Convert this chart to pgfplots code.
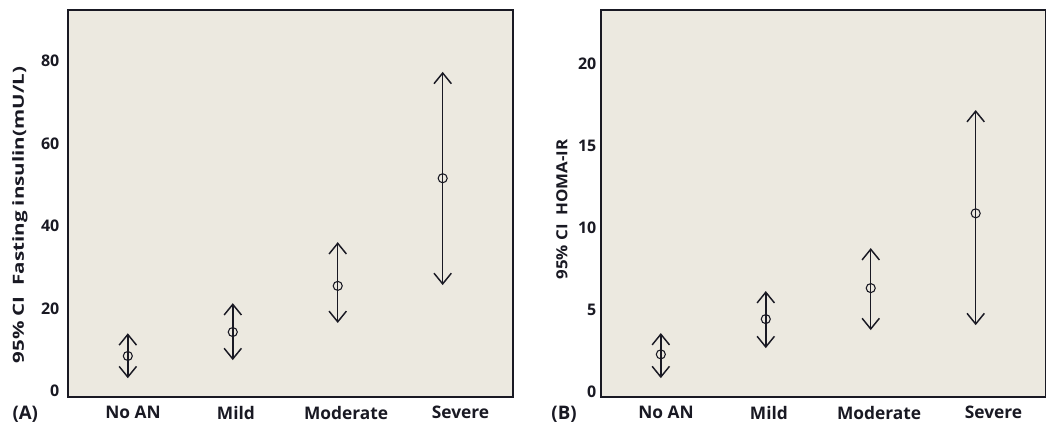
\documentclass[border=0pt]{standalone}
\usepackage{pgfplots}
\pgfplotsset{compat=1.18}
\usepackage{fontspec}
\setmainfont{Open Sans}
\usetikzlibrary{arrows.meta}

\definecolor{panel}{RGB}{236,233,224}
\definecolor{ink}{RGB}{25,25,35}

\tikzset{panellabel/.style={font=\fontsize{14}{16}\selectfont\bfseries, text=ink}}

\pgfplotsset{
  ciplot/.style={
    scale only axis, width=333.75pt, height=290.25pt,
    anchor=south west,
    axis background/.style={fill=panel},
    axis line style={line width=0.9pt, ink},
    xmin=-0.57, xmax=3.67,
    xtick={0.05,1.03,2.08,3.17},
    xticklabels={No AN, Mild, Moderate, Severe},
    major tick length=0pt,
    /pgf/number format/assume math mode=true,
    xticklabel style={font=\fontsize{13}{15}\selectfont\bfseries, text=ink, yshift=-3.5pt},
    yticklabel style={font=\fontsize{12}{14}\selectfont\bfseries, text=ink},
    ylabel style={font=\fontsize{11.5}{13}\selectfont\bfseries, text=ink, anchor=center},
    clip=false,
  },
  ci/.style={ink, line width=1.1pt,
    {Straight Barb[length=8pt,width=13pt]}-{Straight Barb[length=8pt,width=13pt]}},
  mean/.style={only marks, mark=o, mark size=3.4pt, ink, mark options={line width=0.8pt}},
}

\begin{document}
\begin{tikzpicture}
\useasboundingbox (0,0) rectangle (784.5pt,321pt);

% (A) fasting insulin
\begin{axis}[ciplot, at={(51pt,23.25pt)},
    ymin=-1.45, ymax=92.4, ytick={0,20,40,60,80},
    yticklabel style={xshift=-3pt},
    ylabel={\scalebox{1.34}[1]{95\% CI\ \ Fasting insulin(mU/L)}},
    ylabel style={at={(axis description cs:-0.108,0.47)}}]
\addplot[ci] coordinates {(0,3.1) (0,14.0)};
\addplot[ci] coordinates {(1,7.5) (1,21.3)};
\addplot[ci] coordinates {(2,16.5) (2,36.1)};
\addplot[ci] coordinates {(3,25.7) (3,77.4)};
\addplot[mean] coordinates {(0,8.5) (1,14.3) (2,25.5) (3,51.6)};
\node[panellabel] at (axis description cs:-0.096,-0.045) {(A)};
\end{axis}

% (B) HOMA-IR
\begin{axis}[ciplot, at={(450.75pt,23.25pt)},
    ymin=-0.3, ymax=23.3, ytick={0,5,10,15,20},
    ylabel={\scalebox{1.1}[1]{95\% CI\ \ HOMA-IR}},
    ylabel style={at={(axis description cs:-0.088,0.485)}}]
\addplot[ci] coordinates {(0,0.85) (0,3.6)};
\addplot[ci] coordinates {(1,2.68) (1,6.16)};
\addplot[ci] coordinates {(2,3.78) (2,8.78)};
\addplot[ci] coordinates {(3,4.08) (3,17.2)};
\addplot[mean] coordinates {(0,2.3) (1,4.45) (2,6.34) (3,10.9)};
\node[panellabel] at (axis description cs:-0.083,-0.045) {(B)};
\end{axis}
\end{tikzpicture}
\end{document}
